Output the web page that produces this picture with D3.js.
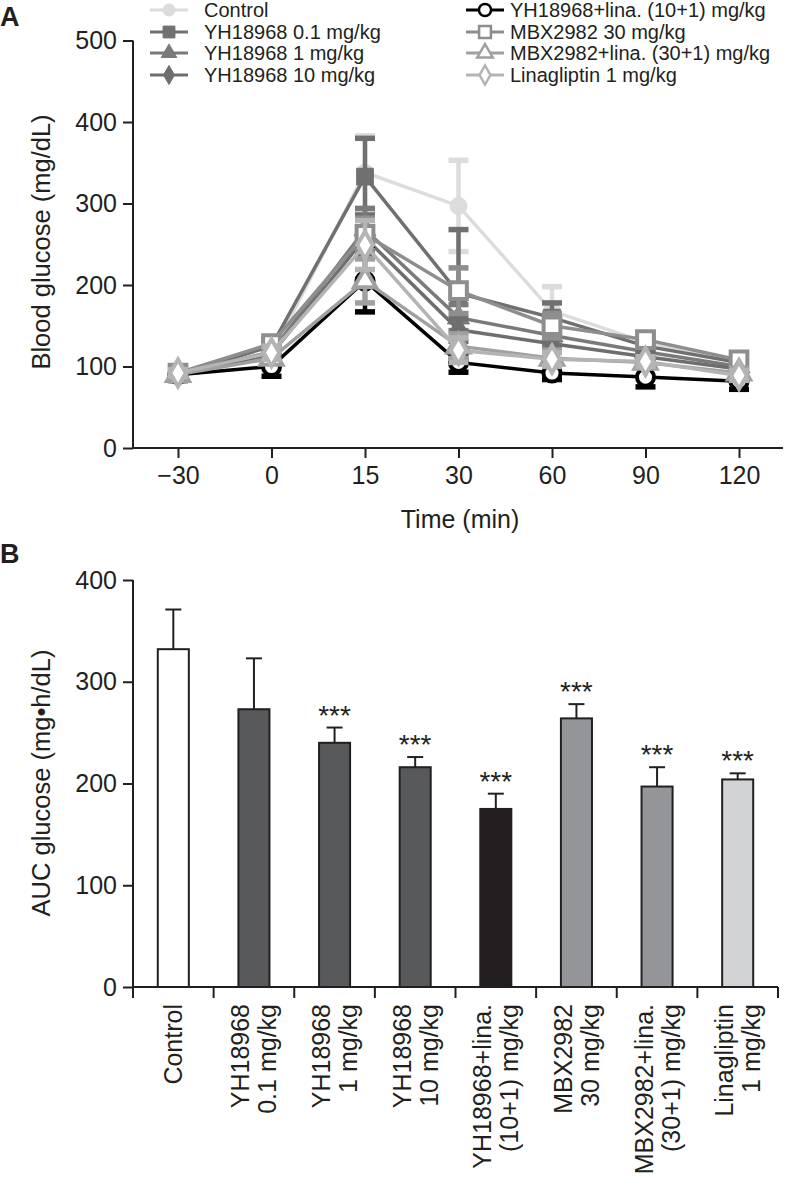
<!DOCTYPE html>
<html><head><meta charset="utf-8">
<script src="https://cdn.jsdelivr.net/npm/d3@7"></script>
<style>
body{margin:0;background:#fff;}
svg{display:block;font-family:"Liberation Sans",Arial,sans-serif;}
</style></head>
<body><svg id="c" width="786" height="1186"></svg>
<script>
// ---------- Panel A data ----------
const times = ["\u221230","0","15","30","60","90","120"];
const seriesNames = ["Control","YH18968 0.1 mg/kg","YH18968 1 mg/kg","YH18968 10 mg/kg",
  "YH18968+lina. (10+1) mg/kg","MBX2982 30 mg/kg","MBX2982+lina. (30+1) mg/kg","Linagliptin 1 mg/kg"];
const controlMean = [92,115,338,297,168,130,105];
const controlSD   = [5,8,45,56,30,8,8];
const yh01Mean = [90,125,333,190,160,125,105];
const yh01SD   = [5,8,47,78,18,8,8];
const yh1Mean  = [90,118,268,160,138,118,100];
const yh1SD    = [4,8,26,16,12,8,6];
const yh10Mean = [90,115,258,145,128,112,97];
const yh10SD   = [4,8,22,14,10,6,6];
const yhLinaMean = [90,100,205,105,92,87,82];
const yhLinaSD   = [4,12,38,12,8,12,10];
const mbxMean = [92,128,262,193,150,133,108];
const mbxSD   = [4,6,20,28,15,8,8];
const mbxLinaMean = [90,110,205,125,110,105,92];
const mbxLinaSD   = [4,6,27,15,10,6,6];
const linaMean = [92,117,249,120,109,106,89];
const linaSD   = [4,8,30,15,8,6,6];
const yTicksA = [0,100,200,300,400,500];

// ---------- Panel B data ----------
const barCats = [["Control"],["YH18968","0.1 mg/kg"],["YH18968","1 mg/kg"],["YH18968","10 mg/kg"],
  ["YH18968+lina.","(10+1) mg/kg"],["MBX2982","30 mg/kg"],["MBX2982+lina.","(30+1) mg/kg"],["Linagliptin","1 mg/kg"]];
const aucMean = [332,273,240,216,175,264,197,204];
const aucSD   = [39,50,15,10,15,14,19,6];
const aucSig  = ["","","***","***","***","***","***","***"];
const yTicksB = [0,100,200,300,400];

// ---------- styles ----------
const seriesStyle = [
  {c:"#dcdcdc", m:"circle", open:false},
  {c:"#707070", m:"square", open:false},
  {c:"#7a7a7a", m:"triangle", open:false},
  {c:"#6e6e6e", m:"diamond", open:false},
  {c:"#000000", m:"circle", open:true},
  {c:"#8e8e8e", m:"square", open:true},
  {c:"#a0a0a0", m:"triangle", open:true},
  {c:"#b4b4b4", m:"diamond", open:true}
];
const barColors = ["#ffffff","#58595b","#58595b","#58595b","#231f20","#939598","#939598","#d1d3d4"];

const means = [controlMean,yh01Mean,yh1Mean,yh10Mean,yhLinaMean,mbxMean,mbxLinaMean,linaMean];
const sds = [controlSD,yh01SD,yh1SD,yh10SD,yhLinaSD,mbxSD,mbxLinaSD,linaSD];

const svg = d3.select("#c");
const FONT = 25;
const INK = "#231f20";

// ===== Panel A =====
const xA = d3.scalePoint().domain(times).range([178,739]);
const yA = d3.scaleLinear().domain([0,500]).range([448,40.5]);
const gA = svg.append("g");

function marker(sel, type, size){
  const sym = {circle:d3.symbolCircle, square:d3.symbolSquare, triangle:d3.symbolTriangle, diamond:d3.symbolDiamond}[type];
  return sel.attr("d", d3.symbol().type(sym).size(size));
}
const sizes = {circle:230, square:280, triangle:210, diamond:210};

means.forEach((m,i)=>{
  const st = seriesStyle[i];
  const g = gA.append("g");
  const sd = sds[i];
  times.forEach((t,j)=>{
    const x = xA(t);
    const hi = yA(m[j]+sd[j]), lo = yA(m[j]-sd[j]);
    g.append("line").attr("x1",x).attr("x2",x).attr("y1",hi).attr("y2",lo)
      .attr("stroke",st.c).attr("stroke-width",4.5);
    [hi,lo].forEach(yy=>g.append("line").attr("x1",x-10).attr("x2",x+10).attr("y1",yy).attr("y2",yy)
      .attr("stroke",st.c).attr("stroke-width",5.5));
  });
  g.append("path").datum(m)
    .attr("d", d3.line().x((d,j)=>xA(times[j])).y(d=>yA(d)))
    .attr("fill","none").attr("stroke",st.c).attr("stroke-width",3.5);
  times.forEach((t,j)=>{
    marker(g.append("path"), st.m, sizes[st.m])
      .attr("transform",`translate(${xA(t)},${yA(m[j])})`)
      .attr("fill", st.open ? "#fff" : st.c)
      .attr("stroke", st.c).attr("stroke-width", st.open?4:1);
  });
});

// axes A
const axYA = gA.append("g").attr("transform","translate(133,0)")
  .call(d3.axisLeft(yA).tickValues(yTicksA).tickSize(10).tickPadding(6));
const axXA = gA.append("g").attr("transform","translate(0,448)")
  .call(d3.axisBottom(xA).tickSize(10).tickPadding(8));
axXA.select(".domain").attr("d","M133,0H783");
[axYA,axXA].forEach(a=>{
  a.selectAll("path,line").attr("stroke",INK).attr("stroke-width",2);
  a.selectAll("text").attr("font-size",FONT).attr("fill",INK).attr("font-family","Liberation Sans, Arial");
});
axYA.select(".domain").attr("d","M0,40.5V448");
gA.append("text").attr("transform","translate(50,242) rotate(-90)").attr("text-anchor","middle")
  .attr("font-size",25.5).attr("fill",INK).text("Blood glucose (mg/dL)");
gA.append("text").attr("x",460).attr("y",528).attr("text-anchor","middle")
  .attr("font-size",25).attr("fill",INK).text("Time (min)");
svg.append("text").attr("x",0).attr("y",26).attr("font-size",27).attr("font-weight","bold").attr("fill",INK).text("A");

// legend
const legCols = [{lx:150, tx:204}, {lx:466, tx:510}];
const rowY = [10,32,53,75];
seriesNames.forEach((nm,i)=>{
  const col = legCols[Math.floor(i/4)];
  const y = rowY[i%4];
  const st = seriesStyle[i];
  const g = gA.append("g");
  g.append("line").attr("x1",col.lx).attr("x2",col.lx+38).attr("y1",y).attr("y2",y)
    .attr("stroke",st.c).attr("stroke-width",3.2);
  marker(g.append("path"), st.m, sizes[st.m]*0.5)
    .attr("transform",`translate(${col.lx+19},${y})`)
    .attr("fill", st.open?"#fff":st.c).attr("stroke",st.c).attr("stroke-width",st.open?2.5:1);
  g.append("text").attr("x",col.tx).attr("y",y).attr("dy","0.36em")
    .attr("font-size",20).attr("fill",INK).text(nm);
});

// ===== Panel B =====
const xB = d3.scaleBand().domain(d3.range(barCats.length)).range([133,778]).paddingInner(0.615).paddingOuter(0.3075);
const yB = d3.scaleLinear().domain([0,400]).range([987,580]);
const gB = svg.append("g");
svg.append("text").attr("x",0).attr("y",563).attr("font-size",27).attr("font-weight","bold").attr("fill",INK).text("B");

aucMean.forEach((v,i)=>{
  const x0 = xB(i), w = xB.bandwidth(), cx = x0 + w/2;
  const top = yB(v+aucSD[i]);
  gB.append("line").attr("x1",cx).attr("x2",cx).attr("y1",top).attr("y2",yB(v)).attr("stroke",INK).attr("stroke-width",2);
  gB.append("line").attr("x1",cx-8).attr("x2",cx+8).attr("y1",top).attr("y2",top).attr("stroke",INK).attr("stroke-width",2);
  gB.append("rect").attr("x",x0).attr("y",yB(v)).attr("width",w).attr("height",yB(0)-yB(v))
    .attr("fill",barColors[i]).attr("stroke",INK).attr("stroke-width",2);
  if(aucSig[i]) gB.append("text").attr("x",cx).attr("y",top-3).attr("text-anchor","middle")
    .attr("font-size",28).attr("fill",INK).text(aucSig[i]);
});

const axYB = gB.append("g").attr("transform","translate(133,0)")
  .call(d3.axisLeft(yB).tickValues(yTicksB).tickSize(10).tickPadding(6));
axYB.selectAll("path,line").attr("stroke",INK).attr("stroke-width",2);
axYB.selectAll("text").attr("font-size",FONT).attr("fill",INK).attr("font-family","Liberation Sans, Arial");
axYB.select(".domain").attr("d","M0,580V987");
const bounds = d3.range(barCats.length+1).map(i=>133 + i*(645/barCats.length));
gB.append("line").attr("x1",133).attr("x2",778).attr("y1",987).attr("y2",987).attr("stroke",INK).attr("stroke-width",2);
bounds.forEach(b=>gB.append("line").attr("x1",b).attr("x2",b).attr("y1",987).attr("y2",998).attr("stroke",INK).attr("stroke-width",2));
barCats.forEach((lines,i)=>{
  const cx = xB(i)+xB.bandwidth()/2;
  const n = lines.length;
  lines.forEach((s,k)=>{
    const off = (k - (n-1)/2)*27;
    gB.append("text").attr("transform",`translate(${cx+off},1004) rotate(-90)`)
      .attr("text-anchor","end").attr("dy","0.36em").attr("font-size",25).attr("fill",INK).text(s);
  });
});
gB.append("text").attr("transform","translate(50,783) rotate(-90)").attr("text-anchor","middle")
  .attr("font-size",25.5).attr("fill",INK).text("AUC glucose (mg\u2022h/dL)");
</script></body></html>
